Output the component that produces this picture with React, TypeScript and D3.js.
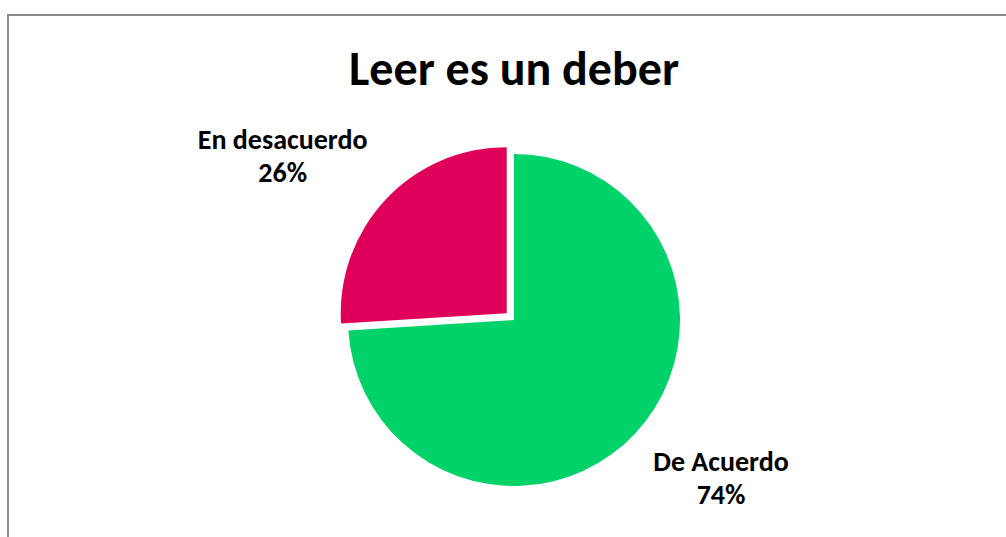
import React, { useEffect, useRef } from "react";
import * as d3 from "d3";

const title = "Leer es un deber";
const categories = ["De Acuerdo", "En desacuerdo"];
const values = [74, 26];
const colors = ["#00D26A", "#DE0059"];
const exploded = [false, true];

const W = 1006;
const H = 537;

export default function App() {
  const ref = useRef<SVGSVGElement>(null);

  useEffect(() => {
    const svg = d3.select(ref.current);
    svg.selectAll("*").remove();

    const font = "Carlito, Calibri, Lato, 'Open Sans', sans-serif";

    svg
      .append("rect")
      .attr("x", 8)
      .attr("y", 15)
      .attr("width", W + 10)
      .attr("height", H)
      .attr("fill", "#fff")
      .attr("stroke", "#8a8a8a")
      .attr("stroke-width", 2);

    svg
      .append("text")
      .attr("x", 514)
      .attr("y", 85)
      .attr("text-anchor", "middle")
      .attr("font-family", font)
      .attr("font-weight", "bold")
      .attr("font-size", 48)
      .attr("fill", "#000")
      .text(title);

    const cx = 514;
    const cy = 320;
    const r = 166;
    const explode = 10;
    const gap = 25;
    const fs = 28;
    const lineH = 33;
    const capH = 0.72 * fs;

    const data = categories.map((c, i) => ({ c, v: values[i], color: colors[i], ex: exploded[i] }));
    const total = d3.sum(values);
    const pie = d3
      .pie<any>()
      .sort(null)
      .value((d: any) => d.v)
      .startAngle(0)
      .endAngle(2 * Math.PI);
    const arcs = pie(data);
    const arc = d3.arc<any>().innerRadius(0).outerRadius(r);

    const g = svg.append("g").attr("transform", `translate(${cx},${cy})`);

    arcs.forEach((a: any) => {
      const mid = (a.startAngle + a.endAngle) / 2;
      const dx = Math.sin(mid);
      const dy = -Math.cos(mid);
      const off = a.data.ex ? explode : 0;
      g.append("path")
        .attr("d", arc(a) as string)
        .attr("transform", `translate(${dx * off},${dy * off})`)
        .attr("fill", a.data.color);

      const lg = svg.append("g");
      const t = lg
        .append("text")
        .attr("text-anchor", "middle")
        .attr("font-family", font)
        .attr("font-weight", "bold")
        .attr("font-size", fs)
        .attr("fill", "#000");
      t.append("tspan").attr("x", 0).attr("dy", 0).text(a.data.c);
      t.append("tspan")
        .attr("x", 0)
        .attr("dy", lineH)
        .text(d3.format(".0%")(a.data.v / total));
      const bb = (lg.node() as SVGGElement).getBBox();
      // box: left = bb.x, right = bb.x + width, top = -capH, bottom = lineH (last baseline)
      const boxTop = -capH;
      const boxH = lineH + capH;
      const px = cx + dx * (off + r + gap);
      const py = cy + dy * (off + r + gap);
      const bx = dx > 0 ? px : px - bb.width;
      const by = dy > 0 ? py : py - boxH;
      lg.attr("transform", `translate(${bx - bb.x},${by - boxTop})`);
    });
  }, []);

  return (
    <svg
      ref={ref}
      width={W}
      height={H}
      style={{ position: "absolute", left: 0, top: 0, background: "#fff" }}
    />
  );
}
